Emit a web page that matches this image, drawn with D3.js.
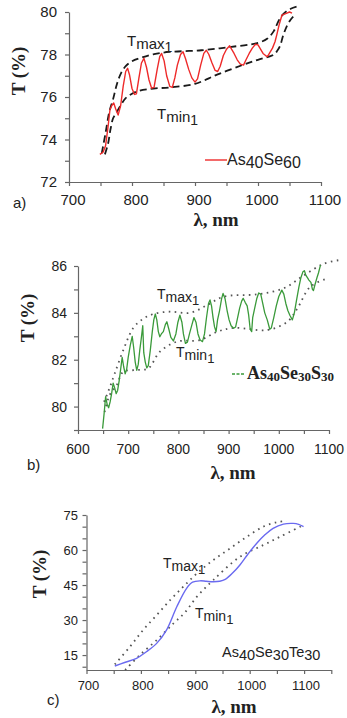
<!DOCTYPE html>
<html>
<head>
<meta charset="utf-8">
<script src="https://cdn.jsdelivr.net/npm/d3@7"></script>
<style>
  body { margin: 0; background: #fff; }
  svg { display: block; }
</style>
</head>
<body>
<div id="chart"></div>
<script>
// ---- panel a) As40Se60 ----
const aWl = [749, 754, 758, 762, 765, 768, 771, 774, 778, 782, 786, 790, 793, 796, 800, 804, 807, 811, 815, 819,
  823, 827, 831, 835, 840, 844, 847, 851, 855, 860, 864, 868, 872, 877, 881, 885, 890, 895, 900, 904,
  909, 914, 918, 922, 927, 932, 936, 940, 945, 950, 955, 958, 962, 967, 972, 977, 981, 986, 991, 996,
  1000, 1004, 1008, 1012, 1015, 1019, 1023, 1027, 1030, 1034, 1038, 1042, 1046, 1050, 1054];
const aT = [73.30, 73.40, 73.70, 74.60, 75.40, 75.60, 75.72, 75.45, 75.15, 75.60, 76.50, 77.20, 77.35, 77.05, 76.40, 76.12, 76.15, 76.90, 77.60, 77.82,
  77.40, 76.80, 76.42, 76.45, 77.30, 77.90, 78.05, 77.70, 77.00, 76.50, 76.45, 76.90, 77.50, 78.00, 78.13, 77.80, 77.30, 76.90, 76.70, 76.85,
  77.50, 78.05, 78.20, 78.00, 77.60, 77.25, 77.20, 77.45, 77.95, 78.25, 78.41, 78.25, 78.05, 77.75, 77.55, 77.50, 77.75, 78.05, 78.30, 78.48,
  78.45, 78.25, 78.05, 77.95, 77.90, 78.10, 78.30, 78.60, 78.95, 79.45, 79.85, 79.90, 79.95, 80.00, 79.95];
const aMaxWl = [752, 758, 764, 770, 776, 783, 790, 800, 815, 835, 860, 910, 955, 1000, 1015, 1025, 1033, 1040, 1052, 1067];
const aMaxT = [73.35, 74.30, 75.30, 75.90, 76.60, 77.15, 77.45, 77.68, 77.85, 78.02, 78.12, 78.20, 78.35, 78.55, 78.75, 79.10, 79.60, 79.90, 80.15, 80.30];
const aMinWl = [757, 762, 766, 770, 775, 782, 790, 800, 812, 834, 860, 900, 935, 975, 1000, 1024, 1030, 1035, 1040, 1046, 1052, 1059];
const aMinT = [73.30, 73.80, 74.50, 75.00, 75.25, 75.60, 75.95, 76.15, 76.30, 76.40, 76.45, 76.62, 77.05, 77.50, 77.75, 77.98, 78.15, 78.40, 78.90, 79.35, 79.65, 79.88];
const aYTicks = [72, 74, 76, 78, 80];
const aXTicks = [700, 800, 900, 1000, 1100];

// ---- panel b) As40Se30S30 ----
const bWl = [649, 652, 655, 658, 661, 664, 667, 670, 673, 676, 679, 682, 685, 688, 691, 694, 697, 700, 704, 708,
  711, 714, 717, 720, 723, 726, 729, 731, 734, 737, 740, 744, 748, 751, 754, 757, 760, 763, 766, 770,
  774, 777, 781, 785, 790, 795, 799, 803, 807, 810, 814, 818, 822, 827, 831, 835, 839, 843, 848, 852,
  856, 860, 863, 866, 869, 872, 875, 878, 882, 886, 889, 893, 897, 901, 905, 910, 914, 918, 922, 926,
  929, 933, 937, 940, 943, 946, 948, 952, 956, 960, 964, 968, 972, 977, 982, 985, 990, 995, 1000, 1006,
  1010, 1014, 1018, 1022, 1027, 1031, 1035, 1040, 1044, 1048, 1051, 1054, 1057, 1060, 1064, 1067, 1069, 1072, 1076, 1079, 1083];
const bT = [79.06, 79.70, 80.42, 80.10, 79.95, 80.20, 80.55, 81.00, 80.80, 80.55, 80.70, 81.10, 81.60, 82.10, 81.70, 81.40, 81.60, 82.10, 82.60, 83.00,
  82.50, 81.90, 81.55, 81.80, 82.40, 82.90, 83.45, 82.30, 81.90, 81.65, 81.75, 82.40, 83.20, 83.70, 83.95, 83.70, 83.20, 82.98, 83.10, 83.20,
  83.50, 83.62, 83.30, 82.95, 82.80, 83.10, 83.60, 83.90, 83.60, 83.10, 82.70, 82.75, 83.10, 83.50, 83.80, 83.60, 83.10, 82.85, 82.77, 83.10,
  83.80, 84.40, 84.55, 84.30, 83.80, 83.40, 83.20, 83.70, 84.10, 84.60, 84.83, 84.60, 84.10, 83.70, 83.45, 83.34, 83.40, 83.80, 84.20, 84.50,
  84.62, 84.45, 84.30, 83.90, 83.30, 83.20, 83.80, 84.20, 84.60, 84.85, 84.80, 84.40, 84.00, 83.70, 83.30, 83.35, 83.80, 84.30, 84.70, 84.97,
  84.80, 84.40, 84.10, 83.90, 83.70, 84.00, 84.50, 85.10, 85.50, 85.75, 85.80, 85.60, 85.50, 85.40, 85.30, 85.00, 84.95, 85.20, 85.50, 85.70, 86.04];
const bMaxWl = [652, 663, 673, 690, 710, 730, 750, 783, 823, 857, 890, 957, 1010, 1050, 1090, 1120];
const bMaxT = [80.20, 80.80, 81.40, 82.40, 83.35, 83.75, 83.95, 84.05, 84.00, 84.33, 84.69, 84.79, 85.05, 85.60, 86.10, 86.25];
const bMinWl = [653, 663, 677, 690, 717, 740, 763, 797, 843, 877, 910, 977, 1017, 1037, 1063, 1097];
const bMinT = [79.77, 80.49, 80.91, 81.48, 81.56, 81.63, 82.34, 82.77, 82.84, 83.19, 83.36, 83.27, 83.62, 84.19, 85.12, 85.47];
const bYTicks = [80, 82, 84, 86];
const bXTicks = [600, 700, 800, 900, 1000, 1100];

// ---- panel c) As40Se30Te30 ----
const cWl = [752, 770, 792, 810, 829, 847, 866, 884, 895, 909, 920, 933, 945, 955, 968, 982, 997, 1013, 1028, 1043, 1062, 1080, 1090, 1099];
const cT = [10.3, 11.8, 13.6, 16.4, 20.0, 25.7, 35.7, 43.6, 46.2, 46.8, 46.6, 46.4, 46.6, 47.4, 50.0, 53.6, 58.3, 62.9, 66.5, 69.3, 71.1, 71.4, 71.0, 70.0];
const cMaxWl = [752, 780, 804, 829, 854, 878, 903, 933, 964, 995, 1025, 1050, 1068];
const cMaxT = [11.0, 18.6, 25.7, 32.1, 38.6, 44.3, 50.0, 55.7, 60.7, 65.7, 70.0, 71.9, 72.4];
const cMinWl = [771, 798, 829, 860, 880, 903, 933, 982, 1025, 1056, 1099];
const cMinT = [8.6, 15.0, 21.4, 28.6, 33.0, 40.0, 47.1, 57.1, 62.1, 65.7, 70.7];
const cYTicks = [15, 30, 45, 60, 75];
const cXTicks = [700, 800, 900, 1000, 1100];

const width = 347, height = 718;
const svg = d3.select("#chart").append("svg")
  .attr("width", width)
  .attr("height", height);

const sans = "'Liberation Sans', Arial, sans-serif";
const serif = "'Liberation Serif', 'Times New Roman', serif";

function zip(xs, ys) {
  return xs.map((x, i) => [x, ys[i]]);
}

// text with lowered parts, e.g. T max 1
function subText(x, y, parts, font, size, weight, color) {
  const t = svg.append("text")
    .attr("x", x).attr("y", y)
    .attr("font-family", font)
    .attr("font-size", size)
    .attr("font-weight", weight || "normal")
    .attr("fill", color || "#222");
  let cur = 0;
  parts.forEach(p => {
    t.append("tspan")
      .attr("dy", p.dy - cur)
      .attr("font-size", p.size || size)
      .text(p.t);
    cur = p.dy;
  });
  return t;
}

function drawPanel(o) {
  const x = d3.scaleLinear().domain(o.xDomain).range(o.xRange);
  const y = d3.scaleLinear().domain(o.yDomain).range(o.yRange);
  const g = svg.append("g");

  // minor ticks
  const xAxis = d3.axisBottom(x).tickValues(d3.range(o.xDomain[0], o.xDomain[1] + 1, 50))
    .tickSizeInner(4).tickSizeOuter(0).tickFormat("");
  g.append("g").attr("transform", `translate(0,${o.yRange[0]})`).call(xAxis);
  const yAxis = d3.axisLeft(y).tickValues(d3.range(o.yMinorStart, o.yDomain[1] + 0.001, o.yMinorStep))
    .tickSizeInner(4).tickSizeOuter(0).tickFormat("");
  g.append("g").attr("transform", `translate(${o.xRange[0]},0)`).call(yAxis);
  g.selectAll(".domain, .tick line").attr("stroke", "#666").attr("stroke-width", 1.2);

  // tick labels
  g.selectAll(".xl").data(o.xTicks).enter().append("text")
    .attr("x", d => x(d) + (o.xLabelDx || 0))
    .attr("y", o.xLabelY)
    .attr("text-anchor", "middle")
    .attr("font-family", sans)
    .attr("font-size", o.tickSize)
    .attr("fill", "#222")
    .text(d => d);
  g.selectAll(".yl").data(o.yTicks).enter().append("text")
    .attr("x", o.yLabelX)
    .attr("y", d => y(d))
    .attr("dy", "0.36em")
    .attr("text-anchor", "end")
    .attr("font-family", sans)
    .attr("font-size", o.tickSize)
    .attr("fill", "#222")
    .text(d => d);

  // envelopes
  const env = d3.line().x(d => x(d[0])).y(d => y(d[1])).curve(d3.curveCatmullRom.alpha(0.5));
  [o.maxPts, o.minPts].forEach(pts => {
    g.append("path")
      .attr("d", env(pts))
      .attr("fill", "none")
      .attr("stroke", o.envColor)
      .attr("stroke-width", o.envWidth)
      .attr("stroke-dasharray", o.envDash);
  });

  // spectrum
  const line = d3.line().x(d => x(d[0])).y(d => y(d[1]))
    .curve(o.smooth ? d3.curveCatmullRom.alpha(0.5) : d3.curveLinear);
  g.append("path")
    .attr("d", line(o.data))
    .attr("fill", "none")
    .attr("stroke", o.color)
    .attr("stroke-width", o.lineWidth)
    .attr("stroke-linejoin", "round");

  // axis titles
  svg.append("text")
    .attr("transform", `translate(${o.yTitleX},${o.yTitleY}) rotate(-90)`)
    .attr("text-anchor", "middle")
    .attr("font-family", serif)
    .attr("font-weight", "bold")
    .attr("font-size", 19)
    .attr("fill", "#222")
    .text("T (%)");
  svg.append("text")
    .attr("x", o.xTitleX).attr("y", o.xTitleY)
    .attr("text-anchor", "middle")
    .attr("font-family", serif)
    .attr("font-weight", "bold")
    .attr("font-size", 19)
    .attr("fill", "#222")
    .text("λ, nm");
  svg.append("text")
    .attr("x", o.tagX).attr("y", o.tagY)
    .attr("font-family", sans)
    .attr("font-size", 15)
    .attr("fill", "#222")
    .text(o.tag);

  // Tmax1 / Tmin1
  subText(o.maxLab[0], o.maxLab[1], [{t: "T", dy: 0}, {t: "max", dy: 3}, {t: "1", dy: 6, size: o.annSize - 1}], sans, o.annSize);
  subText(o.minLab[0], o.minLab[1], [{t: "T", dy: 0}, {t: "min", dy: 3}, {t: "1", dy: 6, size: o.annSize - 1}], sans, o.annSize);
  return {x, y};
}

// a)
drawPanel({
  xDomain: [700, 1100], xRange: [69, 321],
  yDomain: [72, 80], yRange: [182, 12],
  yMinorStart: 72, yMinorStep: 1,
  xTicks: aXTicks, yTicks: aYTicks,
  tickSize: 15, xLabelY: 205, xLabelDx: 4, yLabelX: 57,
  data: zip(aWl, aT), color: "#ee2a2a", lineWidth: 1.4,
  maxPts: zip(aMaxWl, aMaxT), minPts: zip(aMinWl, aMinT),
  envColor: "#1a1a1a", envWidth: 1.8, envDash: "7,4",
  yTitleX: 25, yTitleY: 71, xTitleX: 216, xTitleY: 226,
  tag: "a)", tagX: 13, tagY: 208,
  maxLab: [127, 46], minLab: [157, 119], annSize: 15
});
// legend a
svg.append("line").attr("x1", 205).attr("x2", 227).attr("y1", 160).attr("y2", 160)
  .attr("stroke", "#ee2a2a").attr("stroke-width", 1.4);
subText(227, 165, [{t: "As", dy: 0}, {t: "40", dy: 3}, {t: "Se", dy: 0}, {t: "60", dy: 3}], sans, 16);

// b)
drawPanel({
  xDomain: [600, 1100], xRange: [78, 329],
  yDomain: [79, 86], yRange: [430, 266],
  yMinorStart: 79, yMinorStep: 1,
  xTicks: bXTicks, yTicks: bYTicks,
  tickSize: 14, xLabelY: 454, xLabelDx: 0, yLabelX: 67,
  data: zip(bWl, bT), color: "#3a9a3a", lineWidth: 1.3,
  maxPts: zip(bMaxWl, bMaxT), minPts: zip(bMinWl, bMinT),
  envColor: "#555", envWidth: 1.8, envDash: "1.6,4.4",
  yTitleX: 34, yTitleY: 318, xTitleX: 233, xTitleY: 479,
  tag: "b)", tagX: 27, tagY: 470,
  maxLab: [157, 299], minLab: [176, 357], annSize: 14
});
svg.append("line").attr("x1", 232).attr("x2", 245).attr("y1", 374).attr("y2", 374)
  .attr("stroke", "#3a9a3a").attr("stroke-width", 1.3).attr("stroke-dasharray", "3,1.5");
subText(247, 379, [{t: "As", dy: 0}, {t: "40", dy: 2, size: 13}, {t: "Se", dy: 0}, {t: "30", dy: 2, size: 13}, {t: "S", dy: 0}, {t: "30", dy: 2, size: 13}], serif, 18, "bold");

// c)
drawPanel({
  xDomain: [700, 1150], xRange: [86.5, 331.3],
  yDomain: [8.6, 75], yRange: [670, 515],
  yMinorStart: 10, yMinorStep: 5,
  xTicks: cXTicks, yTicks: cYTicks,
  tickSize: 13, xLabelY: 690, xLabelDx: 2, yLabelX: 78,
  data: zip(cWl, cT), color: "#6a6af0", lineWidth: 1.4, smooth: true,
  maxPts: zip(cMaxWl, cMaxT), minPts: zip(cMinWl, cMinT),
  envColor: "#555", envWidth: 1.8, envDash: "1.6,4.4",
  yTitleX: 46, yTitleY: 574, xTitleX: 234, xTitleY: 713,
  tag: "c)", tagX: 47, tagY: 705,
  maxLab: [163, 568], minLab: [195, 618], annSize: 14
});
subText(222, 657, [{t: "As", dy: 0}, {t: "40", dy: 3}, {t: "Se", dy: 0}, {t: "30", dy: 3}, {t: "Te", dy: 0}, {t: "30", dy: 3}], sans, 14.5);
</script>
</body>
</html>
